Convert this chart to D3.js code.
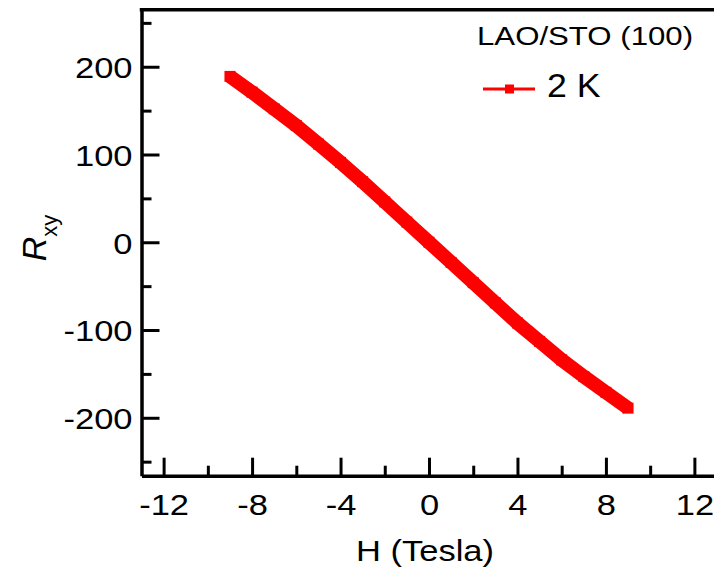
<!DOCTYPE html>
<html>
<head>
<meta charset="utf-8">
<script src="https://cdn.jsdelivr.net/npm/d3@7"></script>
<style>
  html, body { margin: 0; padding: 0; background: #fff; }
  svg { display: block; }
  text { font-family: "Liberation Sans", Arial, sans-serif; fill: #000; }
</style>
</head>
<body>
<script>
// Hall resistance of LAO/STO (100) at 2 K versus field
const fieldTesla = [-9, -8, -7, -6, -5, -4, -3, -2, -1, 0, 1, 2, 3, 4, 5, 6, 7, 8, 9];
const rxyValues  = [189, 171, 152, 133, 112, 91, 69, 46, 23, 0, -23, -46, -69, -92, -113, -134, -153, -171, -189];

const xMajorTicks = [-12, -8, -4, 0, 4, 8, 12];
const xMinorTicks = [-10, -6, -2, 2, 6, 10];
const yMajorTicks = [-200, -100, 0, 100, 200];
const yMinorTicks = [-250, -150, -50, 50, 150, 250];

const seriesLabel = "2 K";
const sampleLabel = "LAO/STO (100)";

const W = 714, H = 583;
const svg = d3.select("body").append("svg").attr("width", W).attr("height", H);

const x = d3.scaleLinear().domain([-13, 13]).range([141.5, 716.5]);
const y = d3.scaleLinear().domain([-266, 265]).range([475.7, 9.7]);

const axisW = 3.5, tickW = 3;
const sx = 1.15; // horizontal glyph stretch
const fmt = d => d < 0 ? "-" + Math.abs(d) : String(d);

// data curve: thick line with square symbols
const pts = fieldTesla.map((h, i) => [h, rxyValues[i]]);
const g = svg.append("g");
g.append("path")
  .datum(pts)
  .attr("fill", "none")
  .attr("stroke", "#ff0000")
  .attr("stroke-width", 14)
  .attr("stroke-linejoin", "round")
  .attr("d", d3.line().x(d => x(d[0])).y(d => y(d[1])));
g.selectAll("rect.pt")
  .data(pts)
  .join("rect")
  .attr("class", "pt")
  .attr("x", d => x(d[0]) - 5.5)
  .attr("y", d => y(d[1]) - 5.5)
  .attr("width", 11).attr("height", 11)
  .attr("fill", "#ff0000");

// x axis: major ticks with labels, minor ticks without
const xAxisG = svg.append("g").attr("transform", `translate(0,${y.range()[0]})`);
const xMajorG = xAxisG.append("g")
  .call(d3.axisBottom(x).tickValues(xMajorTicks).tickSizeInner(-18).tickSizeOuter(0).tickFormat(fmt));
const xMinorG = xAxisG.append("g")
  .call(d3.axisBottom(x).tickValues(xMinorTicks).tickSizeInner(-10).tickSizeOuter(0).tickFormat(""));
xMinorG.select(".domain").remove();
xMinorG.selectAll(".tick text").remove();
xAxisG.selectAll(".tick line").attr("stroke", "#000").attr("stroke-width", tickW);
xMajorG.select(".domain").attr("stroke", "#000").attr("stroke-width", axisW);
xMajorG.selectAll(".tick text")
  .attr("font-size", 30).attr("font-family", "Liberation Sans, Arial, sans-serif")
  .attr("y", 39).attr("dy", 0)
  .attr("transform", `scale(${sx},1)`);

// y axis
const yAxisG = svg.append("g").attr("transform", `translate(${x.range()[0]},0)`);
const yMajorG = yAxisG.append("g")
  .call(d3.axisLeft(y).tickValues(yMajorTicks).tickSizeInner(-18).tickSizeOuter(0).tickFormat(fmt));
const yMinorG = yAxisG.append("g")
  .call(d3.axisLeft(y).tickValues(yMinorTicks).tickSizeInner(-10).tickSizeOuter(0).tickFormat(""));
yMinorG.select(".domain").remove();
yMinorG.selectAll(".tick text").remove();
yAxisG.selectAll(".tick line").attr("stroke", "#000").attr("stroke-width", tickW);
yMajorG.select(".domain").attr("stroke", "#000").attr("stroke-width", axisW);
yMajorG.selectAll(".tick text")
  .attr("font-size", 30).attr("font-family", "Liberation Sans, Arial, sans-serif")
  .attr("x", -9 / sx).attr("dy", "0.36em")
  .attr("transform", `scale(${sx},1)`);

// top frame line
svg.append("line")
  .attr("x1", x.range()[0] - axisW / 2).attr("x2", W + 5)
  .attr("y1", y.range()[1]).attr("y2", y.range()[1])
  .attr("stroke", "#000").attr("stroke-width", axisW);

// axis titles
svg.append("text")
  .attr("transform", `translate(425,561) scale(${sx},1)`)
  .attr("text-anchor", "middle").attr("font-size", 30)
  .text("H (Tesla)");

const yTitle = svg.append("text")
  .attr("transform", "translate(46,238) rotate(-90)")
  .attr("text-anchor", "middle").attr("font-size", 34);
yTitle.append("tspan").attr("font-style", "italic").text("R");
yTitle.append("tspan").attr("font-size", 22).attr("dy", 11).text("xy");

// legend
svg.append("text")
  .attr("transform", `translate(477,45) scale(1.2,1)`)
  .attr("font-size", 26)
  .text(sampleLabel);
svg.append("line")
  .attr("x1", 483).attr("x2", 535).attr("y1", 89).attr("y2", 89)
  .attr("stroke", "#ff0000").attr("stroke-width", 3);
svg.append("rect")
  .attr("x", 505).attr("y", 84.5).attr("width", 9).attr("height", 9)
  .attr("fill", "#ff0000");
svg.append("text")
  .attr("transform", `translate(547,96.5) scale(1.05,1)`)
  .attr("font-size", 34)
  .text(seriesLabel);
</script>
</body>
</html>
